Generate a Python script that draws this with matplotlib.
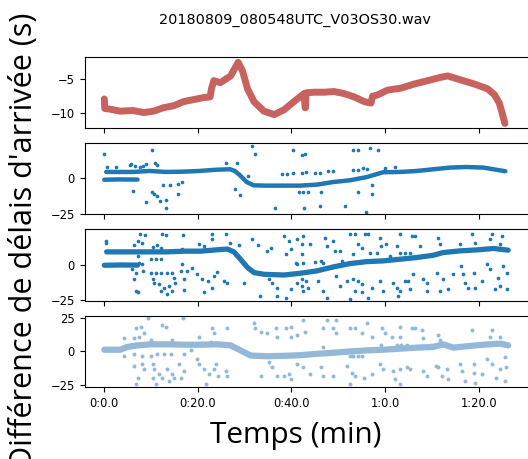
import matplotlib
matplotlib.use('Agg')
import numpy as np
import matplotlib.pyplot as plt
from matplotlib.ticker import FuncFormatter

title = '20180809_080548UTC_V03OS30.wav'

# panel 1: delay curve (s) vs time (s)
t1 = [0.0, 0.1, 1.2, 3.4, 6.1, 8.4, 10.5, 12.6, 14.8, 16.9, 19.0, 21.2, 22.6, 22.9, 23.4,
      24.8, 27.0, 28.6, 29.5, 30.6, 32.0, 34.1, 36.3, 38.4, 40.5, 42.7, 42.9, 43.0, 43.1,
      44.8, 47.0, 49.1, 51.2, 53.4, 55.6, 57.0, 57.3, 58.4, 60.5, 63.4, 66.2, 69.1, 71.9,
      73.4, 76.2, 79.1, 81.9, 83.4, 84.4, 85.1, 85.6]
v1 = [-8.0, -9.4, -9.5, -9.8, -9.7, -10.0, -9.8, -9.3, -9.0, -8.4, -8.1, -7.8, -7.7, -6.5, -5.3,
      -5.6, -4.6, -2.6, -3.8, -6.5, -8.4, -9.8, -10.3, -9.6, -8.4, -7.2, -9.3, -9.3, -7.1,
      -7.0, -7.0, -6.9, -7.2, -7.7, -8.4, -8.6, -7.6, -7.4, -6.7, -6.4, -5.8, -5.3, -4.8,
      -4.6, -5.2, -5.8, -6.5, -7.4, -8.6, -10.3, -11.6]

# panel 2
t2 = [0.4, 6.1, 9.7, 13.2, 16.8, 20.3, 24.0, 26.9, 27.9, 29.0, 30.4, 31.9, 34.7, 38.3, 41.8,
      45.4, 49.0, 52.5, 56.1, 59.6, 63.2, 66.8, 70.3, 73.9, 77.4, 81.0, 85.7]
v2 = [4.5, 4.5, 5.2, 4.5, 4.7, 5.2, 6.1, 6.4, 5.2, 2.1, -2.6, -5.0, -5.2, -5.2, -5.2,
      -4.5, -2.6, -1.4, 0.9, 4.3, 4.5, 5.2, 6.4, 7.6, 8.0, 7.6, 5.0]
t2b = [0.0, 3.0, 7.1]
v2b = [-1.0, -0.8, -0.9]
t2o = [0.0, 0.5, 2.6, 5.5, 5.8, 6.6, 7.6, 8.3, 9.0, 10.1, 10.8, 11.2, 6.2, 9.0, 10.1, 10.6,
       11.2, 11.9, 13.2, 13.2, 12.6, 14.0, 15.8, 16.5, 15.8, 26.1, 28.4, 27.9, 29.1, 31.5,
       32.2, 30.8, 36.5, 40.4, 42.2, 42.9, 42.7, 41.5, 42.5, 43.6, 46.1, 46.2, 51.4, 53.2,
       54.3, 56.8, 58.5, 54.3, 55.9, 57.1, 57.1, 60.0, 62.1, 37.9, 39.0, 40.4, 42.2, 43.2,
       45.0, 46.1, 47.9, 48.9, 53.2, 54.3, 55.3, 56.1]
v2o = [17.0, 8.0, 8.0, 9.2, 10.4, 8.5, 8.0, 8.5, 10.4, 19.9, 10.9, 9.2, -9.0, -16.8, -9.7,
       -11.3, -12.5, -16.3, -15.6, -21.0, -5.0, -5.0, -3.8, -2.6, -10.9, 10.9, 10.9, -7.3,
       -12.1, 22.7, 17.0, 1.4, -21.0, 20.3, 16.3, 17.5, -21.0, -9.7, -9.7, -9.7, -19.9,
       -9.7, -19.9, 19.9, 19.9, 21.7, 20.3, -9.7, -23.9, -5.0, -10.9, 7.6, 8.0, 3.3, 3.3,
       3.8, 3.8, 4.5, 3.8, 3.8, 5.2, 5.2, 6.1, 6.1, 7.6, 6.9]

# panel 3
t3 = [0.5, 9.9, 13.5, 17.0, 20.6, 24.2, 26.3, 27.7, 29.1, 30.6, 32.0, 34.1, 38.4, 41.8,
      45.4, 48.9, 52.5, 56.1, 59.6, 63.2, 66.8, 70.3, 72.4, 76.0, 79.6, 83.2, 86.3]
v3 = [9.0, 9.0, 9.0, 9.5, 9.5, 10.5, 11.0, 9.0, 3.8, -2.1, -5.7, -6.9, -7.4, -6.2,
      -4.5, -1.7, 0.7, 2.1, 2.6, 3.8, 5.0, 6.6, 8.5, 9.7, 10.4, 11.4, 10.2]
t3b = [0.0, 3.5, 7.1]
v3b = [-0.5, -0.3, -0.4]
t3o = [0.3, 0.3, 7.6, 8.8, 7.1, 8.1, 6.3, 10.3, 11.2, 12.4, 13.1, 16.9, 12.2, 16.5, 20.2,
       21.4, 23.1, 23.1, 26.1, 26.8, 28.8, 31.6, 32.9, 34.7, 35.6, 38.4, 39.5, 41.2, 42.3,
       38.8, 39.8, 7.1, 7.4, 6.0, 6.7, 6.3, 7.1, 6.7, 8.1, 8.3, 9.9, 11.0, 12.1, 9.9, 11.0,
       12.1, 13.5, 14.5, 10.3, 10.6, 11.7, 12.8, 12.1, 13.8, 14.5, 13.5, 15.2, 14.8, 17.0,
       16.3, 17.7, 17.0, 16.7, 18.8, 19.9, 20.9, 22.2, 23.4, 24.0, 23.1, 21.3, 25.6, 26.3,
       29.9, 33.3, 37.0, 35.2, 35.9, 36.9, 38.8, 39.8, 41.2, 42.3, 40.9, 41.2,
       42.5, 44.0, 42.2, 42.5, 42.2, 43.2, 43.6, 42.5, 47.2, 47.5, 48.9, 49.3, 50.4, 50.7,
       46.8, 45.7, 46.8, 47.5, 49.6, 50.4, 52.5, 53.5, 54.3, 53.2, 55.7, 56.4, 55.0, 56.8,
       58.2, 58.9, 60.2, 61.0, 59.2, 63.2, 62.5, 63.2, 64.2, 65.3, 65.7, 66.4, 67.4, 71.4,
       71.7, 76.0, 78.5, 79.2, 82.8, 82.4, 84.9, 84.5, 51.8, 53.2, 54.3, 55.0, 53.6, 55.0,
       52.5, 56.4, 57.1, 58.9, 59.6, 61.7, 62.5, 63.2, 62.8, 64.2, 64.9, 66.0, 65.3, 68.2,
       68.9, 71.0, 68.9, 71.7, 73.5, 72.4, 74.6, 76.3, 76.7, 77.0, 77.8, 79.2, 78.9, 80.7,
       81.7, 82.4, 83.5, 84.2, 85.3, 86.0, 86.0, 84.6, 45.0, 46.4]
v3o = [16.8, 15.6, 21.5, 20.8, 16.8, 15.6, 13.7, 12.7, 13.7, 21.5, 20.8, 20.8, 12.0, 11.3,
       14.4, 13.2, 21.5, 17.9, 21.5, 15.6, 13.7, 17.9, 13.7, 9.7, 12.0, 20.3, 16.8, 17.9,
       14.4, 7.3, 10.9, 6.1, 1.4, -3.3, -5.7, -10.4, -19.8, -18.7, 0.2, -4.5, 3.8, 3.8, 3.8,
       -5.7, -6.1, -5.7, -5.7, -5.7, -10.4, -12.8, -13.9, -16.3, -18.7, -15.1, -18.7, -21.0,
       -12.8, -9.2, -10.4, -4.5, -4.5, -17.9, 0.2, -2.1, -6.9, -10.4, -11.6, -8.0, -5.2,
       -16.3, -19.8, -11.6, -12.8, -12.8, -22.2, -22.2, -10.4, -12.8, -16.3, -23.4, -17.5,
       -12.8, -15.1, 1.4, 0.2,
       20.3, 14.4, 7.3, 1.4, -10.4, -11.6, -16.3, -18.7, 19.1, 13.2, 16.8, 9.7, 9.7, 2.6,
       1.4, -11.6, -18.7, -23.4, -8.0, -15.1, 21.5, 21.5, 14.4, 7.3, 21.5, 21.5, 12.0, 8.5,
       8.5, 19.1, 14.4, 6.1, 13.2, 21.5, 13.2, 8.0, 8.0, 8.0, 20.3, 20.3, 13.2, 19.1,
       14.4, 14.4, 21.5, 15.6, 21.5, 17.9, 20.3, 14.4, -11.6, -10.4, -11.6, -14.0, -18.7, -19.8,
       -24.6, -23.4, -16.3, -11.6, -18.7, -12.8, -16.3, -18.7, -22.2, -11.6, -11.6, -6.9, -17.5, -10.4,
       -12.8, -5.7, -18.7, -18.7, -17.5, -10.4, -6.9, -1.0, -6.9, -12.8, -16.3, -16.3, -5.7, -11.6,
       0.2, -3.3, -17.5, -9.2, -1.0, -5.7, -17.5, -15.1, 2.1, 2.6]

# panel 4
t4 = [0.0, 3.4, 4.9, 7.1, 9.9, 13.5, 17.0, 20.6, 24.2, 27.0, 29.1, 31.3, 34.8, 38.4, 42.0,
      45.4, 48.9, 52.5, 56.1, 59.6, 63.2, 66.8, 70.3, 72.4, 74.6, 77.4, 81.0, 84.6, 86.3]
v4 = [1.3, 1.3, 3.4, 4.6, 5.4, 5.4, 5.1, 5.1, 5.4, 4.6, 0.8, -3.1, -3.6, -3.3, -2.8,
      -1.8, -1.0, 0.0, 0.8, 1.3, 2.1, 2.9, 3.4, 5.4, 2.9, 3.9, 5.1, 5.9, 4.6]
t4o = [9.3, 16.9, 6.7, 7.8, 8.5, 12.4, 13.1, 6.3, 7.4, 4.2, 9.9, 14.5, 20.2, 23.1, 23.4,
       26.3, 22.7, 32.0, 32.3, 33.4, 34.7, 36.6, 36.9, 38.8, 39.8, 39.8, 41.2, 4.2, 6.3,
       8.1, 9.9, 11.3, 12.7, 14.2, 17.0, 6.3, 8.1, 8.5, 7.1, 6.7, 10.3, 10.6, 11.7, 10.3,
       12.4, 11.0, 13.5, 14.5, 14.9, 13.8, 15.9, 17.0, 16.3, 18.5, 19.9, 20.2, 21.3, 22.4,
       23.4, 23.8, 21.7, 24.2, 25.9, 26.3, 33.4, 35.2, 35.9, 36.9, 38.4, 39.5, 39.8, 41.2,
       42.5, 42.9, 46.8, 47.5, 49.6, 48.9, 49.6, 52.5, 53.6, 55.0, 56.1, 57.1, 59.3, 60.0,
       61.4, 63.2, 63.2, 65.7, 66.4, 67.8, 68.2, 71.4, 71.7, 78.5, 82.4, 82.8, 84.5, 59.2,
       62.5, 63.5, 64.6, 69.9, 46.8, 52.5, 53.2, 54.3, 55.0, 42.5, 43.9, 46.4, 46.8, 48.9,
       51.8, 52.9, 53.6, 52.5, 55.4, 57.1, 58.9, 59.6, 61.7, 62.1, 63.2, 63.2, 64.6, 65.3,
       68.2, 68.9, 70.9, 71.3, 72.1, 73.2, 73.5, 76.0, 76.4, 77.1, 78.9, 78.9, 79.2, 80.7,
       81.7, 82.8, 83.8, 84.6, 85.6, 85.9, 85.6]
v4o = [25.2, 25.2, 17.5, 18.3, 13.6, 20.1, 18.8, 9.8, 11.1, 9.8, 8.5, 8.5, 11.1, 17.5, 13.6,
       17.5, 7.2, 21.4, 17.5, 14.9, 13.6, 17.5, 10.6, 17.5, 18.8, 11.1, 12.4, -3.1, -1.8,
       -3.1, -3.1, -1.8, -1.8, -1.8, -1.8, -10.8, -9.5, -13.4, -19.8, -24.9, -9.5, -13.4,
       -17.2, -19.8, -19.8, -24.9, -13.4, -17.2, -19.8, -22.4, -9.5, -14.7, -19.8, 0.8,
       -5.7, -9.5, -13.4, -17.2, -13.4, -9.5, -24.9, -18.5, -14.7, -18.5, -18.5, -8.2,
       -12.1, -18.5, -18.5, -17.2, -21.1, -9.5,
       23.9, 14.9, 17.5, 23.9, 23.9, 17.5, 13.6, 17.5, 17.5, 13.6, 21.4, 11.1, 17.5, 13.6,
       11.1, 18.8, 11.1, 17.5, 17.5, 16.2, 9.8, 12.4, 8.5, 16.2, 11.1, 16.2, 11.1, 4.6,
       4.6, 4.6, 4.6, 4.6, 3.4, -3.1, -3.1, -3.1, -3.1, -12.1, -17.2, -12.1, -18.5, -18.5,
       -10.8, -15.9, -18.5, -24.9, -19.8, -17.2, -9.5, -13.4, -14.7, -21.1, -13.4, -24.9,
       -12.1, -13.4, -14.7, -18.5, -10.8, -12.1, -18.5, -13.4, -21.1, -9.5, -14.7, -22.4,
       -9.5, -15.9, -23.6, -17.2, -5.7, -9.5, -19.8, -13.4, -22.4, -12.1, -4.3]

red = '#c8625e'
blue = '#1f77b4'
light = '#94b9d8'


def fmt_time(x, pos):
    return '%d:%.1f' % (int(x // 60), x % 60)


fig, axes = plt.subplots(4, 1, sharex=True, figsize=(5.28, 4.59), dpi=100)
fig.subplots_adjust(left=0.1604, right=1.0019, top=0.876, bottom=0.157, hspace=0.211)

ax = axes[0]
ax.plot(t1, v1, color=red, lw=5, solid_capstyle='round', solid_joinstyle='round')
ax.set_ylim(-12.3, -1.8)
ax.set_yticks([-10, -5])

ax = axes[1]
ax.plot(t2, v2, color=blue, lw=3.2, solid_capstyle='round')
ax.plot(t2b, v2b, color=blue, lw=3.2, solid_capstyle='round')
ax.scatter(t2o, v2o, s=7, color=blue, lw=0)
ax.set_ylim(-25.6, 24.9)
ax.set_yticks([-25, 0])

ax = axes[2]
ax.plot(t3, v3, color=blue, lw=3.8, solid_capstyle='round')
ax.plot(t3b, v3b, color=blue, lw=3.8, solid_capstyle='round')
ax.scatter(t3o, v3o, s=7, color=blue, lw=0)
ax.set_ylim(-25.6, 24.9)
ax.set_yticks([-25, 0])

ax = axes[3]
ax.plot(t4, v4, color=light, lw=4.5, solid_capstyle='round')
ax.scatter(t4o, v4o, s=8, color=light, lw=0)
ax.set_ylim(-26.8, 27.0)
ax.set_yticks([-25, 0, 25])

for ax in axes:
    ax.tick_params(labelsize=8.3)
axes[3].set_xlim(-4.19, 90.75)
axes[3].set_xticks([0, 20, 40, 60, 80])
axes[3].xaxis.set_major_formatter(FuncFormatter(fmt_time))

fig.text(0.558, 1 - 20 / 459, title, ha='center', va='center', fontsize=10.4)
fig.text(0.561, 1 - 436 / 459, 'Temps (min)', ha='center', va='center',
         fontsize=21.4, family='Open Sans')
fig.text(0.046, 0.477, "Différence de délais d'arrivée (s)", ha='center', va='center',
         rotation=90, fontsize=22, family='Open Sans')

fig.savefig('out.png', dpi=100)
